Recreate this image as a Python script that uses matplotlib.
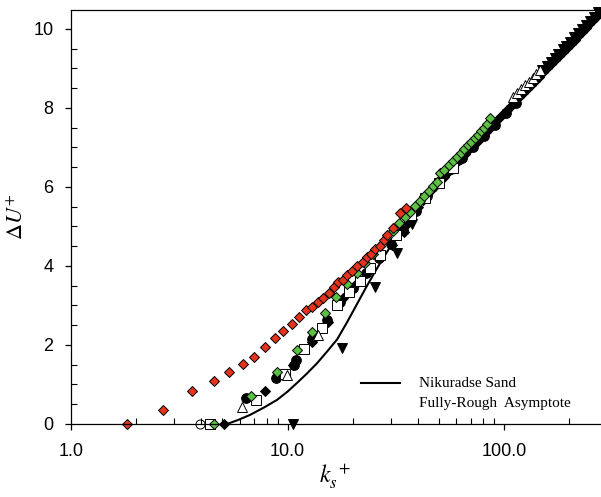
import numpy as np
import matplotlib
matplotlib.use('Agg')
import matplotlib.pyplot as plt
from matplotlib.ticker import FixedLocator, FixedFormatter, LogLocator, MultipleLocator, NullFormatter

plt.rcParams['mathtext.fontset'] = 'stix'
plt.rcParams['font.family'] = ['Liberation Sans', 'DejaVu Sans']

# -------------------------------------------------------------------------------------------------------------------- #
# data
# -------------------------------------------------------------------------------------------------------------------- #
# Nikuradse sand line
curve_ks = [5.25, 5.9, 6.71, 7.8, 8.94, 10.0, 11.06, 12.3, 13.69, 15.2, 16.93, 18.8, 20.94, 23.0, 25.5, 28.0,
            30.7, 33.5, 36.5, 40.0, 45.0, 52.0, 60.0, 80.0, 110.0, 150.0, 200.0, 277.0]
curve_du = [0.0, 0.1, 0.23, 0.42, 0.61, 0.82, 1.04, 1.28, 1.54, 1.83, 2.14, 2.57, 3.04, 3.45, 3.88, 4.25,
            4.6, 4.95, 5.28, 5.6, 5.94, 6.28, 6.64, 7.36, 8.15, 8.92, 9.62, 10.42]

# red diamonds
red_ks = [1.82, 2.65, 3.61, 4.59, 5.38, 6.25, 7.03, 7.90, 8.78, 9.56, 10.46, 11.34, 12.14, 12.94, 13.88,
          14.64, 15.55, 16.45, 17.16, 17.99, 18.89, 19.92, 21.01, 22.39, 23.22, 24.23, 25.37, 26.75, 27.91,
          28.72, 30.72, 33.08, 35.27]
red_du = [0.0, 0.35, 0.84, 1.09, 1.32, 1.52, 1.69, 1.95, 2.18, 2.36, 2.53, 2.72, 2.89, 2.95, 3.10,
          3.20, 3.32, 3.46, 3.60, 3.65, 3.76, 3.88, 4.00, 4.11, 4.22, 4.30, 4.42, 4.51, 4.66,
          4.78, 4.96, 5.33, 5.46]

# green diamonds
green_ks = [4.59, 6.78, 8.92, 11.10, 13.02, 14.91, 16.75, 18.89, 20.83, 22.80, 24.75, 26.75, 28.72, 30.61,
            32.85, 34.77, 36.80, 38.81, 40.93, 42.85, 45.04, 47.14, 48.88, 50.6, 53.0, 55.5, 58.0, 60.5,
            63.0, 65.5, 68.0, 70.5, 73.0, 75.5, 78.0, 80.5, 83.0, 86.1]
green_du = [0.0, 0.72, 1.32, 1.87, 2.34, 2.80, 3.22, 3.54, 3.81, 4.08, 4.31, 4.51, 4.73, 4.89,
            5.08, 5.23, 5.37, 5.52, 5.65, 5.78, 5.90, 6.03, 6.13, 6.35, 6.44, 6.55, 6.66, 6.76,
            6.86, 6.96, 7.06, 7.15, 7.24, 7.32, 7.41, 7.50, 7.60, 7.74]

# black diamonds
bd_ks = [5.09, 7.87, 10.56, 12.94, 15.44, 18.0, 20.5, 23.5, 26.8, 30.4, 34.5, 36.0, 38.0, 40.0, 42.0, 44.0,
         46.0, 48.0, 50.0, 52.5, 55.0, 57.5, 60.0, 63.0, 66.0, 69.0, 72.0, 75.5, 79.0, 82.5, 86.0, 90.0,
         94.0, 98.5, 103.0, 107.5, 112.0, 117.0, 122.0, 127.5, 133.0, 139.0, 145.0, 151.5, 158.0, 165.0,
         172.0, 179.5, 187.0, 195.0, 203.0, 211.5, 220.0, 229.0, 238.0, 247.5, 257.0, 265.0, 272.0]
bd_du = [0.0, 0.84, 1.49, 2.08, 2.59, 3.19, 3.52, 3.85, 4.20, 4.53, 4.86, 5.10, 5.35, 5.50, 5.68, 5.80,
         5.92, 6.03, 6.14, 6.26, 6.38, 6.49, 6.60, 6.72, 6.84, 6.95, 7.06, 7.17, 7.28, 7.39, 7.50, 7.61,
         7.72, 7.84, 7.95, 8.06, 8.16, 8.27, 8.37, 8.48, 8.58, 8.69, 8.79, 8.90, 9.00, 9.11,
         9.21, 9.31, 9.42, 9.52, 9.62, 9.72, 9.82, 9.92, 10.02, 10.12, 10.22, 10.30, 10.38]

# black circles
bc_ks = [6.43, 8.85, 10.7, 10.91, 12.94, 15.16, 17.48, 20.0, 23.0, 26.5, 30.0, 34.0, 39.0, 44.0, 50.0, 57.0,
         64.0, 72.0, 81.0, 91.0, 102.0, 114.0]
bc_du = [0.67, 1.16, 1.50, 1.62, 2.14, 2.62, 3.10, 3.45, 3.82, 4.20, 4.55, 4.92, 5.40, 5.78, 6.12, 6.45,
         6.74, 7.02, 7.30, 7.58, 7.86, 8.12]

# open squares
sq_ks = [4.39, 7.15, 9.74, 11.92, 14.39, 16.99, 19.30, 21.63, 24.05, 26.75, 31.7, 37.0, 43.0, 50.0, 58.0]
sq_du = [0.0, 0.61, 1.27, 1.89, 2.42, 3.00, 3.35, 3.63, 3.95, 4.28, 4.78, 5.30, 5.72, 6.10, 6.48]

# open triangles
tr_ks = [6.18, 9.92, 13.88, 110.0, 115.0, 120.0, 125.0, 130.0, 136.0, 141.0, 147.0]
tr_du = [0.44, 1.24, 2.25, 8.28, 8.38, 8.48, 8.58, 8.66, 8.76, 8.86, 8.96]

# open circle
oc_ks = [3.94]
oc_du = [0.0]

# black down triangles
dt_ks = [10.64, 17.78, 25.37, 31.93, 37.5, 150.0, 157.0, 164.0, 171.0, 178.0, 186.0, 194.0, 202.0, 211.0,
         220.0, 229.0, 239.0, 249.0, 259.0, 270.0]
dt_du = [0.0, 1.92, 3.46, 4.32, 5.05, 8.95, 9.06, 9.17, 9.27, 9.37, 9.48, 9.58, 9.68, 9.79,
         9.89, 9.99, 10.10, 10.20, 10.30, 10.42]

# -------------------------------------------------------------------------------------------------------------------- #
# figure
# -------------------------------------------------------------------------------------------------------------------- #
fig = plt.figure(figsize=(6.01, 4.97), dpi=100)
ax = fig.add_axes([0.1181, 0.1469, 0.8802, 0.8330])

kw = dict(linestyle='none', markeredgecolor='black', markeredgewidth=0.7, clip_on=False)
ax.plot(bd_ks, bd_du, marker='D', markersize=5.6, markerfacecolor='black', **kw)
ax.plot(dt_ks, dt_du, marker='v', markersize=7.5, markerfacecolor='black', **kw)
ax.plot(bc_ks, bc_du, marker='o', markersize=7, markerfacecolor='black', **kw)
ax.plot(sq_ks, sq_du, marker='s', markersize=6.5, markerfacecolor='white', **kw)
ax.plot(tr_ks, tr_du, marker='^', markersize=7, markerfacecolor='white', **kw)
ax.plot(oc_ks, oc_du, marker='o', markersize=6.5, markerfacecolor='none', **kw)
ax.plot(green_ks, green_du, marker='D', markersize=5.6, markerfacecolor='#5cc143', **kw)
ax.plot(red_ks, red_du, marker='D', markersize=5.6, markerfacecolor='#e5341d', **kw)
ax.plot(curve_ks, curve_du, color='black', linewidth=1.5, zorder=1)

ax.set_xscale('log')
ax.set_xlim(1, 277)
ax.set_ylim(0, 10.48)

ax.xaxis.set_major_locator(FixedLocator([1, 10, 100]))
ax.xaxis.set_major_formatter(FixedFormatter(['1.0', '10.0', '100.0']))
ax.xaxis.set_minor_locator(LogLocator(base=10, subs=np.arange(2, 10)))
ax.xaxis.set_minor_formatter(NullFormatter())
ax.yaxis.set_major_locator(MultipleLocator(2))
ax.yaxis.set_minor_locator(MultipleLocator(0.5))

ax.tick_params(which='major', direction='out', length=4.5, width=0.9, labelsize=13)
ax.tick_params(axis='x', which='major', pad=9)
ax.tick_params(axis='y', which='major', pad=8)
ax.tick_params(which='minor', direction='in', length=4, width=0.8)
ax.tick_params(top=False, right=False, which='both')
ax.spines['right'].set_visible(False)
for s in ['left', 'bottom', 'top']:
    ax.spines[s].set_linewidth(0.9)

ax.set_xlabel(r'$k_{s}^{\ +}$', fontsize=17, labelpad=2)
ax.set_ylabel(r'$\Delta U^{+}$', fontsize=16, labelpad=4)

# legend drawn by hand
ax.plot([0.5486, 0.6223], [0.0989, 0.0989], color='black', linewidth=1.5, transform=ax.transAxes)
ax.text(0.6578, 0.0989, 'Nikuradse Sand', transform=ax.transAxes, fontsize=11,
        family='Liberation Serif', va='center', ha='left')
ax.text(0.6578, 0.0483, 'Fully-Rough  Asymptote', transform=ax.transAxes, fontsize=11,
        family='Liberation Serif', va='center', ha='left')

fig.savefig('out.png', dpi=100)
